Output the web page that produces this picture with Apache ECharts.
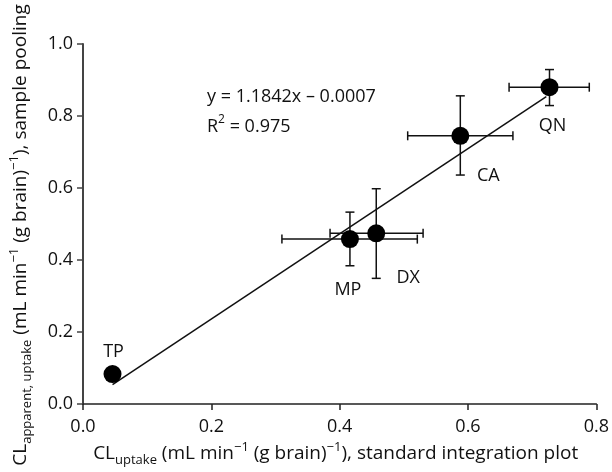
<!DOCTYPE html>
<html lang="en">
<head>
<meta charset="UTF-8">
<title>CL uptake vs sample pooling</title>
<script src="https://cdn.jsdelivr.net/npm/echarts@6/dist/echarts.min.js"></script>
<style>
    html, body { margin: 0; padding: 0; background: #fff; }
    #main { width: 612px; height: 472px; }
</style>
</head>
<body>
<div id="main"></div>
<script>
// values
var names = ['TP', 'MP', 'DX', 'CA', 'QN'];
var xVal  = [0.046, 0.416, 0.457, 0.588, 0.727];
var yVal  = [0.083, 0.458, 0.474, 0.745, 0.880];
var xLow  = [0.046, 0.310, 0.385, 0.506, 0.664];
var xHigh = [0.046, 0.521, 0.530, 0.670, 0.789];
var yLow  = [0.083, 0.384, 0.349, 0.636, 0.829];
var yHigh = [0.083, 0.533, 0.598, 0.856, 0.929];
// regression line end points
var fitX = [0.046, 0.722];
var fitY = [0.054, 0.854];
var xTicks = [0, 0.2, 0.4, 0.6, 0.8];
var yTicks = [0, 0.2, 0.4, 0.6, 0.8, 1.0];

var FONT = '"Open Sans", "Noto Sans", sans-serif';
var INK = '#111';

// label placement relative to each point (px)
var labelOffset = { TP: [1, -22], MP: [-2, 51], DX: [32, 45], CA: [28, 40], QN: [3, 39] };

var richStyles = {
    n:   { fontSize: 19, lineHeight: 26, fontFamily: FONT, color: INK },
    sub: { fontSize: 13, lineHeight: 15, fontFamily: FONT, color: INK, verticalAlign: 'bottom' },
    sup: { fontSize: 13, lineHeight: 15, fontFamily: FONT, color: INK, verticalAlign: 'top' }
};

var pointData = [];
var barData = [];
for (var i = 0; i < names.length; i++) {
    pointData.push({
        name: names[i],
        value: [xVal[i], yVal[i]],
        label: { offset: labelOffset[names[i]] }
    });
    barData.push([xVal[i], yVal[i], xLow[i], xHigh[i], yLow[i], yHigh[i]]);
}

function renderBars(params, api) {
    var x = api.value(0), y = api.value(1);
    var xl = api.coord([api.value(2), y]);
    var xh = api.coord([api.value(3), y]);
    var yl = api.coord([x, api.value(4)]);
    var yh = api.coord([x, api.value(5)]);
    var cap = 4.5;
    var st = { stroke: INK, lineWidth: 1.5, fill: null };
    var kids = [];
    function seg(x1, y1, x2, y2) {
        kids.push({ type: 'line', shape: { x1: x1, y1: y1, x2: x2, y2: y2 }, style: st });
    }
    if (xh[0] - xl[0] > 1) {
        seg(xl[0], xl[1], xh[0], xh[1]);
        seg(xl[0], xl[1] - cap, xl[0], xl[1] + cap);
        seg(xh[0], xh[1] - cap, xh[0], xh[1] + cap);
    }
    if (yl[1] - yh[1] > 1) {
        seg(yl[0], yl[1], yh[0], yh[1]);
        seg(yl[0] - cap, yl[1], yl[0] + cap, yl[1]);
        seg(yh[0] - cap, yh[1], yh[0] + cap, yh[1]);
    }
    return { type: 'group', children: kids };
}

var myChart = echarts.init(document.getElementById('main'));

var option = {
    animation: false,
    backgroundColor: '#fff',
    grid: { left: 82.7, right: 13.7, top: 44, bottom: 68 },
    xAxis: {
        type: 'value',
        min: xTicks[0],
        max: xTicks[xTicks.length - 1],
        interval: 0.2,
        splitLine: { show: false },
        axisLine: { show: true, onZero: false, lineStyle: { color: '#222', width: 1.5 } },
        axisTick: { show: true, length: 6, lineStyle: { color: '#222', width: 1.5 } },
        axisLabel: {
            margin: 14, fontSize: 18, fontFamily: FONT, color: INK,
            formatter: function (v) { return v.toFixed(1); }
        },
        name: '{n|CL}{sub|uptake}{n| (mL min}{sup|−1}{n| (g brain)}{sup|−1}{n|), standard integration plot}',
        nameLocation: 'middle',
        nameGap: 31,
        nameTextStyle: { rich: richStyles, padding: [0, 8, 0, 0] }
    },
    yAxis: {
        type: 'value',
        min: yTicks[0],
        max: yTicks[yTicks.length - 1],
        interval: 0.2,
        splitLine: { show: false },
        axisLine: { show: true, onZero: false, lineStyle: { color: '#444', width: 2 } },
        axisTick: { show: true, length: 6, lineStyle: { color: '#444', width: 1.5 } },
        axisLabel: {
            margin: 10, fontSize: 18, fontFamily: FONT, color: INK,
            formatter: function (v) { return v.toFixed(1); }
        },
        name: '{n|CL}{sub|apparent, uptake}{n| (mL min}{sup|−1}{n| (g brain)}{sup|−1}{n|), sample pooling}',
        nameLocation: 'middle',
        nameGap: 49,
        nameTextStyle: { rich: richStyles, padding: [0, 22, 0, 0] }
    },
    graphic: [
        {
            type: 'text', left: 207, top: 88,
            style: { text: 'y = 1.1842x – 0.0007', font: '18px ' + FONT, fill: INK }
        },
        {
            type: 'text', left: 207, top: 114,
            style: {
                text: '{n|R}{sup|2}{n| = 0.975}',
                rich: {
                    n: { fontSize: 18, lineHeight: 26, fontFamily: FONT, fill: INK },
                    sup: { fontSize: 12, lineHeight: 15, fontFamily: FONT, fill: INK, verticalAlign: 'top' }
                }
            }
        }
    ],
    series: [
        {
            type: 'line',
            data: [[fitX[0], fitY[0]], [fitX[1], fitY[1]]],
            showSymbol: false,
            lineStyle: { color: INK, width: 1.5 },
            silent: true,
            z: 2
        },
        {
            type: 'custom',
            data: barData,
            renderItem: renderBars,
            encode: { x: 0, y: 1 },
            silent: true,
            z: 3
        },
        {
            type: 'scatter',
            data: pointData,
            symbol: 'circle',
            symbolSize: 18,
            itemStyle: { color: '#000', opacity: 1 },
            label: {
                show: true, position: 'inside', formatter: '{b}',
                fontSize: 18, fontFamily: FONT, color: INK
            },
            z: 4
        }
    ]
};

myChart.setOption(option);
</script>
</body>
</html>
